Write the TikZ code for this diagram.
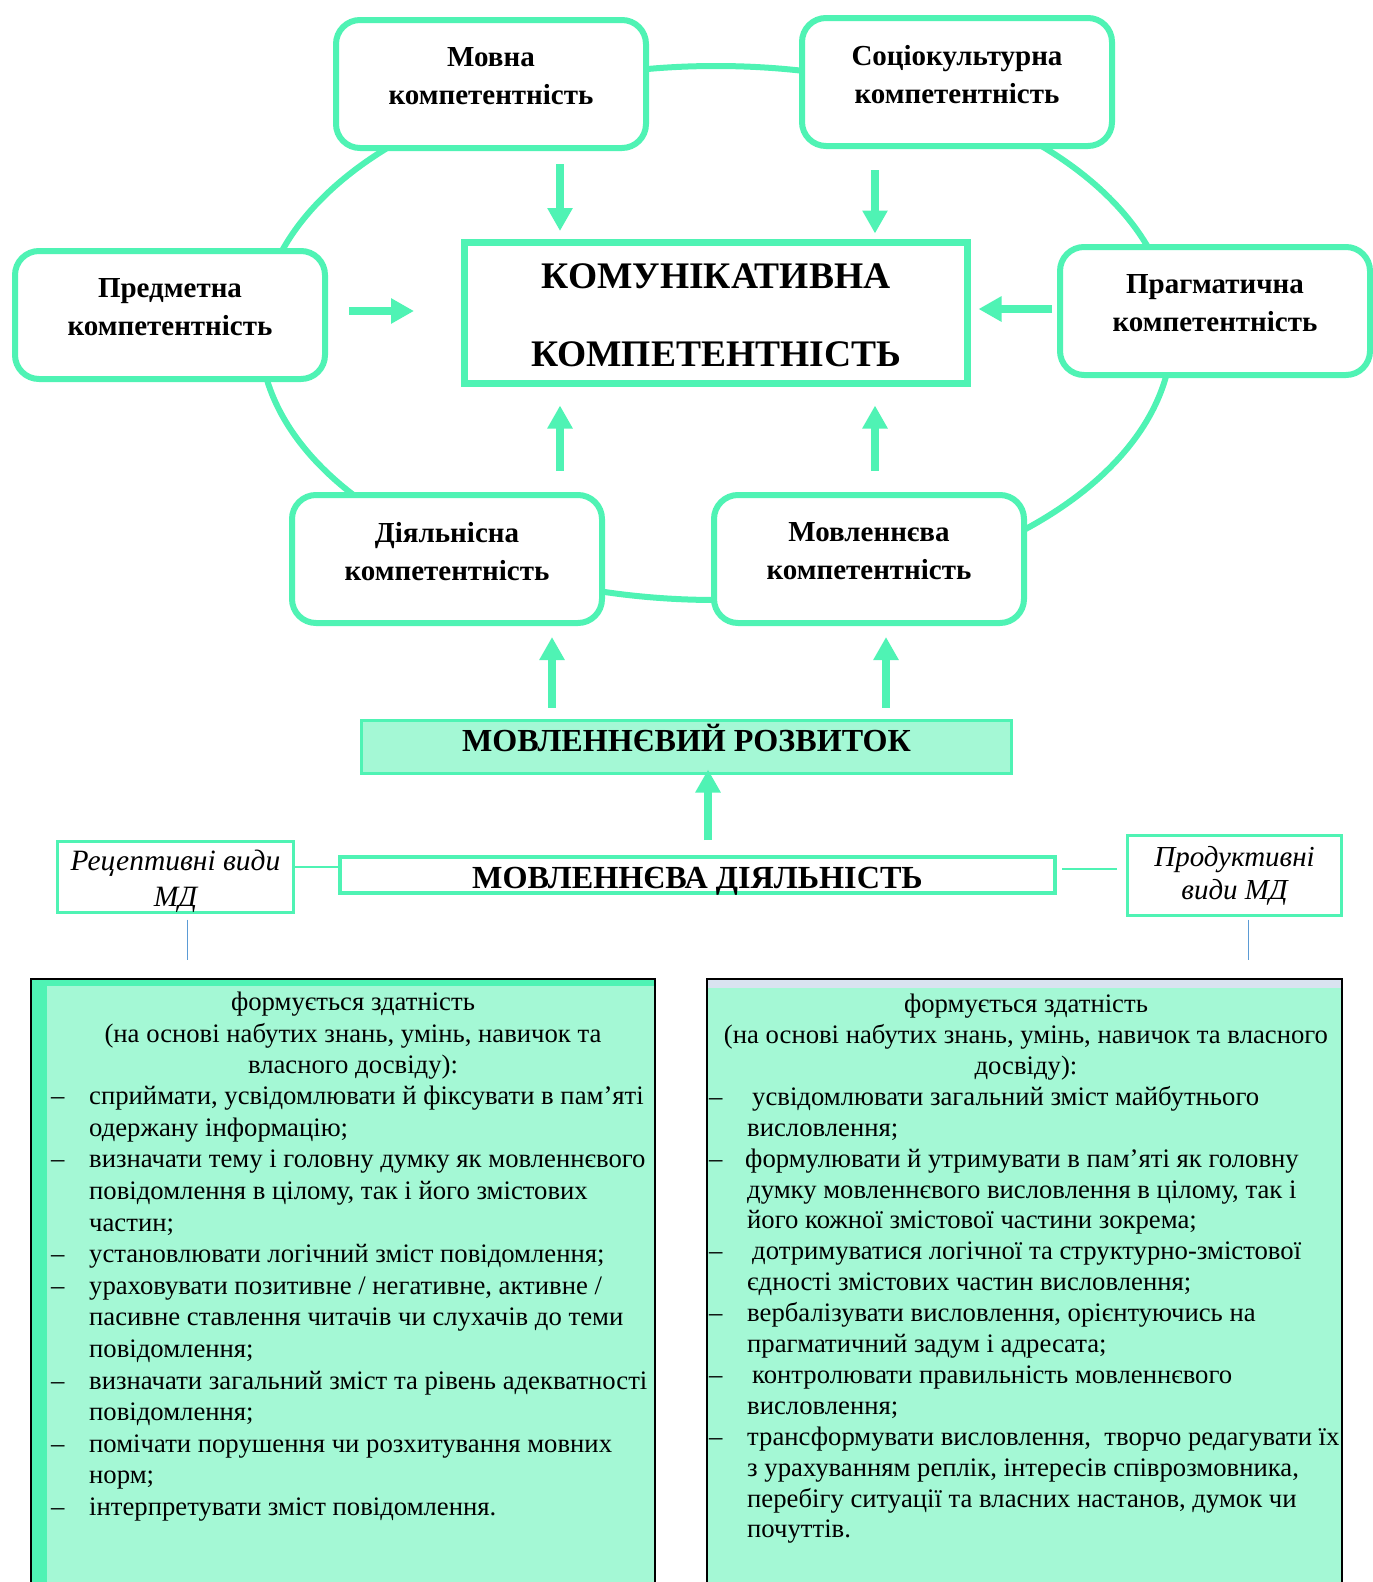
\documentclass[tikz,border=0pt]{standalone}
\usepackage{fontspec}
\setmainfont{Liberation Serif}
\usetikzlibrary{arrows.meta}
\definecolor{mint}{RGB}{79,243,180}
\definecolor{mintpale}{RGB}{164,248,213}
\definecolor{bluegrey}{RGB}{218,227,240}
\definecolor{linkblue}{RGB}{91,155,213}
\newcommand{\itemdash}[1][38pt]{\makebox[#1][l]{–}}
\newcommand{\contline}[1][38pt]{\hspace*{#1}}

\begin{document}
\begin{tikzpicture}[x=1pt,y=-1pt,
    arr/.style={mint, line width=7.5pt, -{Triangle[width=24pt,length=23pt]}},
    ktxt/.style={font=\fontsize{29}{38}\selectfont\bfseries, align=center},
    itxt/.style={draw=mint, line width=3pt, inner sep=0pt, align=center},
    ptxt/.style={inner sep=0pt, font=\fontsize{26.7}{31.6}\selectfont},
    qtxt/.style={inner sep=0pt, font=\fontsize{26.7}{30.9}\selectfont}]
    \useasboundingbox (0,0) rectangle (1373,1582);
    \clip (0,0) rectangle (1373,1582);

    \draw[mint, line width=6pt] (716,333) ellipse [x radius=456pt, y radius=267pt];

    \begin{scope}[minimum width=310pt, minimum height=128pt]
      \tikzstyle{every node}=[draw=mint, fill=white, line width=6pt, rounded corners=24pt]
      \node (Mov)  at (491,84)   {};
      \node (Soc)  at (957,82)   {};
      \node (Pred) at (170,315)  {};
      \node (Prag) at (1215,311) {};
      \node (Diy)  at (447,559)  {};
      \node (Movl) at (869,559)  {};
    \end{scope}
    \node[ktxt] (Mov-t)  at ([yshift=7.5pt]Mov.center)  {Мовна\\компетентність};
    \node[ktxt] (Soc-t)  at ([yshift=7.5pt]Soc.center)  {Соціокультурна\\компетентність};
    \node[ktxt] (Pred-t) at ([yshift=7.5pt]Pred.center) {Предметна\\компетентність};
    \node[ktxt] (Prag-t) at ([yshift=7.5pt]Prag.center) {Прагматична\\компетентність};
    \node[ktxt] (Diy-t)  at ([yshift=7.5pt]Diy.center)  {Діяльнісна\\компетентність};
    \node[ktxt] (Movl-t) at ([yshift=7.5pt]Movl.center) {Мовленнєва\\компетентність};

    \node[draw=mint, fill=white, line width=7pt, minimum width=503pt, minimum height=141pt,
      align=center, font=\fontsize{37.5}{78}\selectfont\bfseries] (Kom) at (716,313)
      {\mbox{}\\[-48pt]КОМУНІКАТИВНА\\КОМПЕТЕНТНІСТЬ};

    \node[draw=mint, fill=mintpale, line width=3pt, minimum width=650pt, minimum height=53pt,
      inner ysep=0pt, text height=21pt, text depth=13pt,
      font=\fontsize{32.1}{36}\selectfont\bfseries] (Rozv) at (686.5,747) {МОВЛЕННЄВИЙ РОЗВИТОК};
    \node[draw=mint, fill=white, line width=4pt, minimum width=715pt, minimum height=36pt,
      inner ysep=0pt, text height=26pt, text depth=0pt,
      font=\fontsize{32.2}{36}\selectfont\bfseries] (Dial) at (697.5,875) {МОВЛЕННЄВА ДІЯЛЬНІСТЬ};

    \node[itxt, minimum width=236pt, minimum height=71pt, font=\fontsize{29.5}{36}\selectfont\itshape]
      (Rec) at (175.5,877) {Рецептивні види\\МД\\[-39pt]\mbox{}};
    \node[itxt, minimum width=214pt, minimum height=80pt, font=\fontsize{29}{33}\selectfont\itshape]
      (Prod) at (1234.5,875.5) {Продуктивні\\види МД};

    \draw[mint, line width=1.5pt] ([yshift=10pt]Rec.east) -- ([yshift=10pt]Rec.east -| Dial.west);
    \draw[mint, line width=1.5pt, shorten <=5pt, shorten >=9pt] ([yshift=6pt]Dial.east) -- ([yshift=6pt]Dial.east -| Prod.west);

    \node[fill=mintpale, minimum width=624pt, minimum height=642pt] (LBox) at (343,1300) {};
    \fill[mint] (LBox.north west) rectangle ([xshift=16pt]LBox.south west);
    \fill[mint] (LBox.north west) rectangle ([yshift=-7pt]LBox.north east);
    \draw[line width=2pt] (LBox.north west) rectangle (LBox.south east);
    \node[fill=mintpale, minimum width=635pt, minimum height=642pt] (RBox) at (1024.5,1300) {};
    \fill[bluegrey] (RBox.north west) rectangle ([yshift=-9pt]RBox.north east);
    \draw[line width=2pt] (RBox.north west) rectangle (RBox.south east);

    \draw[linkblue, line width=1pt, shorten >=19pt] ([xshift=11.5pt,yshift=-5.5pt]Rec.south) -- ([xshift=11.5pt]Rec.south |- LBox.north);
    \draw[linkblue, line width=1pt, shorten >=19pt] ([xshift=13.5pt,yshift=-2.5pt]Prod.south) -- ([xshift=13.5pt]Prod.south |- RBox.north);

    \node[ptxt, align=center, anchor=north] (L-head) at (353,992)
      {формується здатність\\(на основі набутих знань, умінь, навичок та\\власного досвіду):};
    \node[ptxt, align=left, anchor=north west] (L-list) at (51,1086) {%
      \itemdash сприймати, усвідомлювати й фіксувати в пам’яті\\
      \contline одержану інформацію;\\
      \itemdash визначати тему і головну думку як мовленнєвого\\
      \contline повідомлення в цілому, так і його змістових\\
      \contline частин;\\
      \itemdash установлювати логічний зміст повідомлення;\\
      \itemdash ураховувати позитивне / негативне, активне /\\
      \contline пасивне ставлення читачів чи слухачів до теми\\
      \contline повідомлення;\\
      \itemdash визначати загальний зміст та рівень адекватності\\
      \contline повідомлення;\\
      \itemdash помічати порушення чи розхитування мовних\\
      \contline норм;\\
      \itemdash інтерпретувати зміст повідомлення.};

    \node[qtxt, align=center, anchor=north] (R-head) at (1026,994)
      {формується здатність\\(на основі набутих знань, умінь, навичок та власного\\досвіду):};
    \node[qtxt, align=left, anchor=north west] (R-list) at (709,1086) {%
      \itemdash[43pt]усвідомлювати загальний зміст майбутнього\\
      \contline висловлення;\\
      \itemdash[36pt]формулювати й утримувати в пам’яті як головну\\
      \contline думку мовленнєвого висловлення в цілому, так і\\
      \contline його кожної змістової частини зокрема;\\
      \itemdash[43pt]дотримуватися логічної та структурно-змістової\\
      \contline єдності змістових частин висловлення;\\
      \itemdash[38pt]вербалізувати висловлення, орієнтуючись на\\
      \contline прагматичний задум і адресата;\\
      \itemdash[43pt]контролювати правильність мовленнєвого\\
      \contline висловлення;\\
      \itemdash[38pt]трансформувати висловлення,\ \ творчо редагувати їх\\
      \contline з урахуванням реплік, інтересів співрозмовника,\\
      \contline перебігу ситуації та власних настанов, думок чи\\
      \contline почуттів.};

    \draw[arr, shorten <=13pt, shorten >=8pt] ([xshift=69pt]Mov.south) -- ([xshift=69pt]Mov.south |- Kom.north);
    \draw[arr, shorten <=21pt, shorten >=5.5pt] ([xshift=-82pt]Soc.south) -- ([xshift=-82pt]Soc.south |- Kom.north);
    \draw[arr, shorten <=21pt, shorten >=47pt] ([yshift=4pt]Pred.east) -- ([yshift=4pt]Pred.east -| Kom.west);
    \draw[arr, shorten <=5pt, shorten >=7.5pt] ([yshift=2pt]Prag.west) -- ([yshift=2pt]Prag.west -| Kom.east);
    \draw[arr, shorten <=21pt, shorten >=18.5pt] ([xshift=113pt]Diy.north) -- ([xshift=113pt]Diy.north |- Kom.south);
    \draw[arr, shorten <=21pt, shorten >=18.5pt] ([xshift=6pt]Movl.north) -- ([xshift=6pt]Movl.north |- Kom.south);
    \draw[arr, shorten <=11.5pt, shorten >=11pt] ([xshift=105pt]Diy.south |- Rozv.north) -- ([xshift=105pt]Diy.south);
    \draw[arr, shorten <=11.5pt, shorten >=11pt] ([xshift=17pt]Movl.south |- Rozv.north) -- ([xshift=17pt]Movl.south);
    \draw[arr, shorten <=15pt, shorten >=-5.5pt] ([xshift=10.5pt]Dial.north) -- ([xshift=10.5pt]Dial.north |- Rozv.south);
\end{tikzpicture}
\end{document}
